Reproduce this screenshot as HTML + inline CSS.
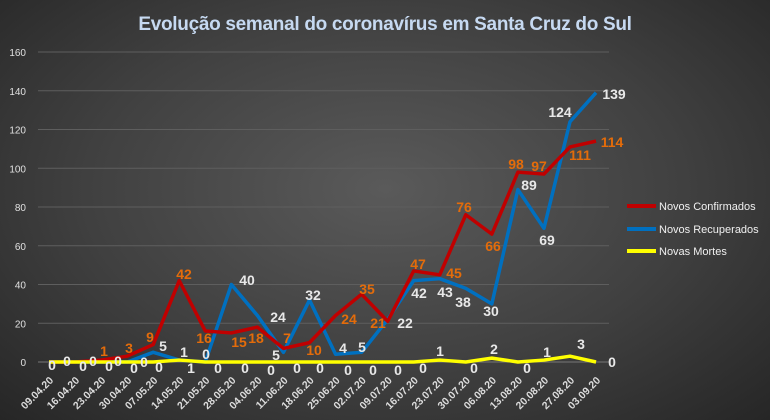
<!DOCTYPE html><html><head><meta charset="utf-8"><style>
body{margin:0;width:770px;height:420px;overflow:hidden;background:radial-gradient(ellipse at 50% 45%,#5a5a5a 0%,#404040 55%,#262626 100%);}
svg{position:absolute;left:0;top:0;font-family:"Liberation Sans",sans-serif;}
</style></head><body>
<svg id="s" width="770" height="420" xmlns="http://www.w3.org/2000/svg">
<text x="385" y="30" fill="#c6d9f1" font-size="19" text-anchor="middle" font-weight="bold" style="letter-spacing:-0.3px">Evolução  semanal  do coronavírus  em Santa Cruz do Sul</text>
<g id="grid" stroke="#5e5e5e" stroke-width="1"></g>
<g id="yl" fill="#e0e0e0" font-size="10" text-anchor="end"></g>
<g id="xl" fill="#dcdcdc" font-size="10.5" font-weight="bold" text-anchor="end"></g>
<g id="lines" fill="none" stroke-width="3.5" stroke-linejoin="round"></g>
<g id="lbl" font-size="14" font-weight="bold" text-anchor="middle"></g>
<g font-size="11" fill="#f0f0f0">
<line x1="627" y1="206" x2="656" y2="206" stroke="#c00000" stroke-width="4"/><text x="659" y="210">Novos Confirmados</text>
<line x1="627" y1="229" x2="656" y2="229" stroke="#0070c0" stroke-width="4"/><text x="659" y="233">Novos Recuperados</text>
<line x1="627" y1="251" x2="656" y2="251" stroke="#ffff00" stroke-width="4"/><text x="659" y="255">Novas Mortes</text>
</g>
</svg>
<script>
const NS="http://www.w3.org/2000/svg";
function el(p,t,a,txt){const e=document.createElementNS(NS,t);for(const k in a)e.setAttribute(k,a[k]);if(txt!==undefined)e.textContent=txt;document.getElementById(p).appendChild(e);}
const X=i=>49+i*26.05, Y=v=>362-v*310/160;
for(let v=0;v<=160;v+=20){if(v>0)el("grid","line",{x1:38,x2:609,y1:Y(v),y2:Y(v)});el("yl","text",{x:26,y:Y(v)+4},v);}
el("grid","line",{x1:38,x2:609,y1:362,y2:362,stroke:"#777"});
const d=["09.04.20","16.04.20","23.04.20","30.04.20","07.05.20","14.05.20","21.05.20","28.05.20","04.06.20","11.06.20","18.06.20","25.06.20","02.07.20","09.07.20","16.07.20","23.07.20","30.07.20","06.08.20","13.08.20","20.08.20","27.08.20","03.09.20"];
d.forEach((t,i)=>el("xl","text",{transform:`translate(${X(i)+5},381) rotate(-45)`},t));
const C=[0,0,1,3,9,42,16,15,18,7,10,24,35,21,47,45,76,66,98,97,111,114];
const R=[0,0,0,0,5,1,0,40,24,5,32,4,5,22,42,43,38,30,89,69,124,139];
const M=[0,0,0,0,0,1,0,0,0,0,0,0,0,0,0,1,0,2,0,1,3,0];
function pl(a,c){el("lines","polyline",{stroke:c,points:a.map((v,i)=>X(i)+","+Y(v)).join(" ")});}
pl(R,"#0070c0");pl(C,"#c00000");pl(M,"#ffff00");
const O="#e46c0a",W="#e8e8e8";
const cl=[[104,356,"1"],[129,353,"3"],[150,342,"9"],[184,279,"42"],[204,343,"16"],[239,347,"15"],[256,343,"18"],[287,343,"7"],[314,355,"10"],[349,324,"24"],[367,294,"35"],[378,328,"21"],[418,269,"47"],[454,278,"45"],[464,212,"76"],[493,251,"66"],[516,169,"98"],[539,171,"97"],[580,160,"111"],[612,147,"114"]];
cl.forEach(a=>el("lbl","text",{x:a[0],y:a[1],fill:O},a[2]));
const rl=[[67,366,"0"],[93,366,"0"],[118,366,"0"],[144,367,"0"],[163,351,"5"],[184,357,"1"],[206,359,"0"],[247,285,"40"],[278,322,"24"],[276,360,"5"],[313,300,"32"],[343,353,"4"],[362,352,"5"],[405,328,"22"],[419,298,"42"],[445,297,"43"],[463,307,"38"],[491,316,"30"],[529,190,"89"],[547,245,"69"],[560,117,"124"],[614,99,"139"],
[52,370,"0"],[83,371,"0"],[109,371,"0"],[134,373,"0"],[159,372,"0"],[191,373,"1"],[218,373,"0"],[245,373,"0"],[271,375,"0"],[297,373,"0"],[320,373,"0"],[348,375,"0"],[373,375,"0"],[398,375,"0"],[423,373,"0"],[440,356,"1"],[474,373,"0"],[494,354,"2"],[527,373,"0"],[547,357,"1"],[581,349,"3"],[612,367,"0"]];
rl.forEach(a=>el("lbl","text",{x:a[0],y:a[1],fill:W},a[2]));
</script>
</body></html>
